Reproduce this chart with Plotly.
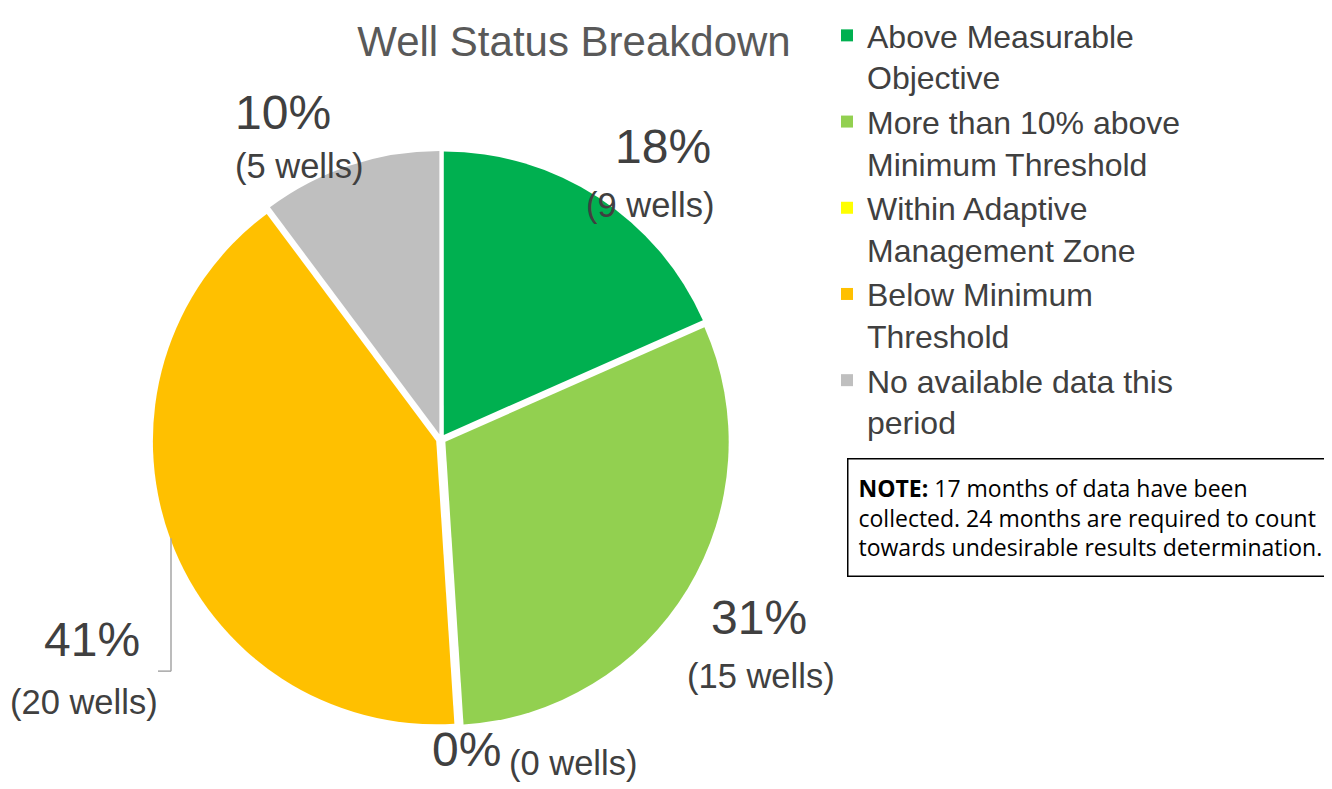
import plotly.graph_objects as go

# ---- data ----
categories = [
    "Above Measurable<br>Objective",
    "More than 10% above<br>Minimum Threshold",
    "Within Adaptive<br>Management Zone",
    "Below Minimum<br>Threshold",
    "No available data this<br>period",
]
well_counts = [9, 15, 0, 20, 5]
slice_colors = ["#00B050", "#92D050", "#FFFF00", "#FFC000", "#BFBFBF"]
title_text = "Well Status Breakdown"
note_text = ("<b>NOTE:</b> 17 months of data have been<br>"
             "collected. 24 months are required to count<br>"
             "towards undesirable results determination.")

W, H = 1332, 789
total = sum(well_counts)
pcts = [round(v / total * 100) for v in well_counts]

fig = go.Figure()
fig.add_trace(go.Pie(
    labels=categories,
    values=well_counts,
    marker=dict(colors=slice_colors, line=dict(width=0)),
    sort=False,
    direction="clockwise",
    rotation=0,
    pull=[0.018] * len(well_counts),
    textinfo="none",
    hoverinfo="label+value+percent",
    domain=dict(x=[142 / W, 724 / W], y=[70 / H, 652 / H]),
    showlegend=True,
))

# label anchor positions (pixels from top-left) for percent and count texts
pct_pos = [(655, 133), (751, 608), (458, 741), (84, 630), (275, 98)]
cnt_pos = [(642, 192), (753, 667), (565, 755), (76, 693), (291, 152)]

LABEL_FONT = "Liberation Sans, Arial, sans-serif"
annotations = []
for i, v in enumerate(well_counts):
    px, py = pct_pos[i]
    cx, cy = cnt_pos[i]
    annotations.append(dict(
        x=px / W, y=1 - py / H, xref="paper", yref="paper",
        text=f"{pcts[i]}%", showarrow=False, xanchor="center", yanchor="middle",
        font=dict(family=LABEL_FONT, size=48, color="#404040")))
    annotations.append(dict(
        x=cx / W, y=1 - cy / H, xref="paper", yref="paper",
        text=f"({v} wells)", showarrow=False, xanchor="center", yanchor="middle",
        font=dict(family=LABEL_FONT, size=34.5, color="#404040")))

annotations.append(dict(
    x=839 / W, y=1 - 447 / H, xref="paper", yref="paper",
    xanchor="left", yanchor="top", showarrow=False, align="left",
    text=note_text, width=473, height=96, borderpad=10, valign="middle",
    bordercolor="#000000", borderwidth=1.5, bgcolor="white",
    font=dict(family="Open Sans, Noto Sans, sans-serif", size=23, color="#000000")))

shapes = [
    dict(type="line", xref="paper", yref="paper",
         x0=150 / W, x1=163 / W, y0=1 - 662 / H, y1=1 - 662 / H,
         line=dict(color="#A6A6A6", width=1.5)),
    dict(type="line", xref="paper", yref="paper",
         x0=163 / W, x1=163 / W, y0=1 - 662 / H, y1=1 - 528 / H,
         line=dict(color="#A6A6A6", width=1.5)),
]

fig.update_layout(
    width=W, height=H,
    margin=dict(l=0, r=0, t=0, b=0),
    paper_bgcolor="white", plot_bgcolor="white",
    title=dict(text=title_text, x=566 / W, xanchor="center", y=1 - 33 / H, yanchor="middle",
               font=dict(family=LABEL_FONT, size=42, color="#595959")),
    legend=dict(x=819 / W, xanchor="left", y=1 + 7 / H, yanchor="top",
                valign="top", traceorder="normal", maxheight=760,
                font=dict(family=LABEL_FONT, size=32, color="#404040"),
                bgcolor="rgba(0,0,0,0)", itemclick=False),
    annotations=annotations,
    shapes=shapes,
)

fig.write_html("out.html")
